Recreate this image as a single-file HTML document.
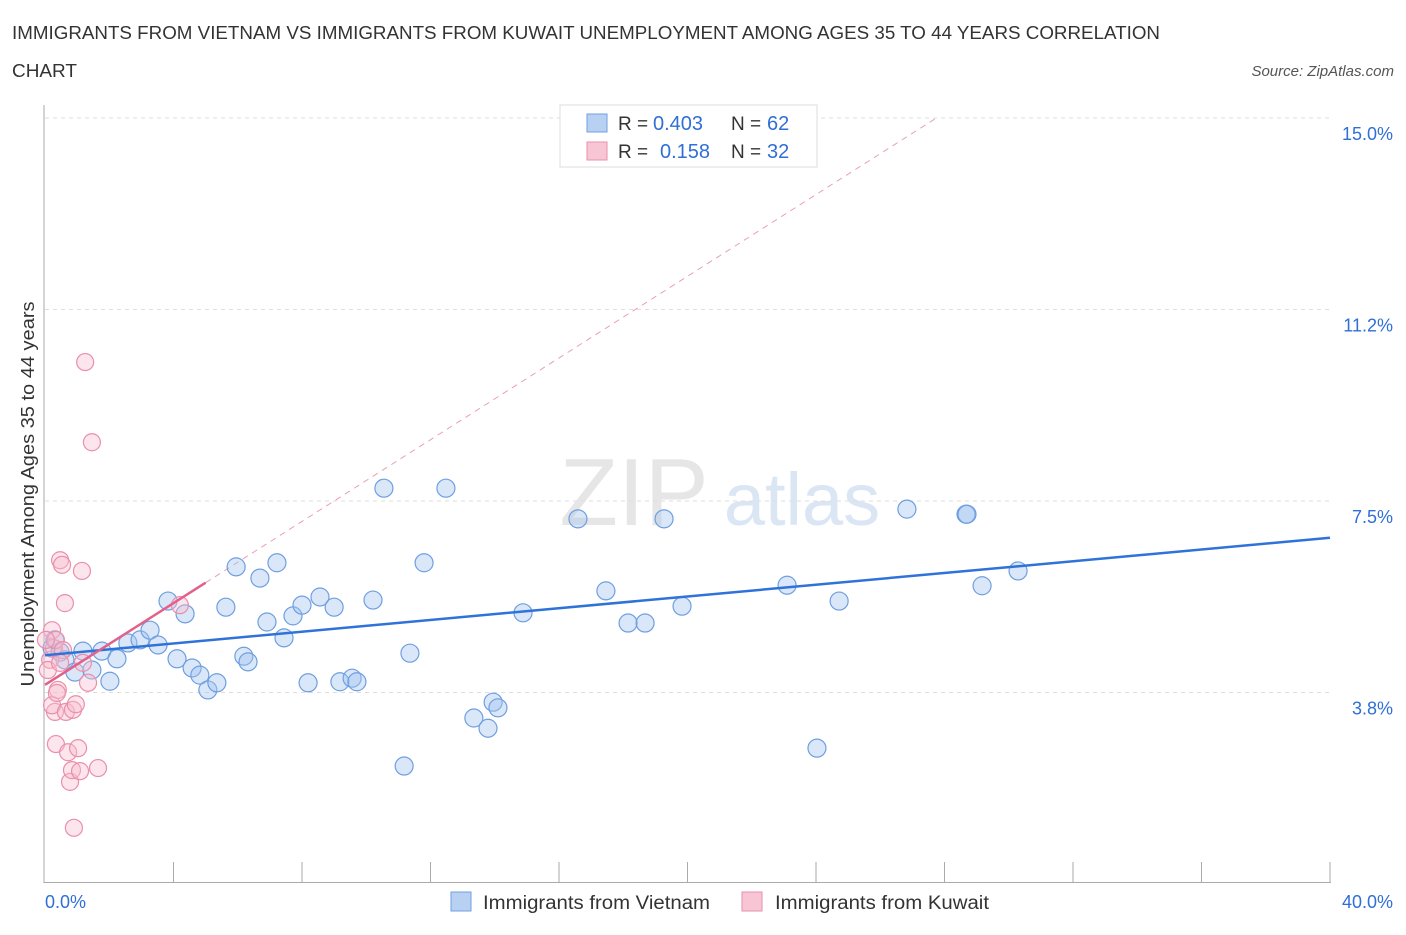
<!DOCTYPE html>
<html><head><meta charset="utf-8"><style>
body{margin:0;background:#fff;font-family:"Liberation Sans",sans-serif;}
svg text{font-family:"Liberation Sans",sans-serif;}
</style></head><body>
<svg id="c" width="1406" height="930">
<text x="12" y="39" font-size="18" fill="#333" textLength="1148" lengthAdjust="spacingAndGlyphs">IMMIGRANTS FROM VIETNAM VS IMMIGRANTS FROM KUWAIT UNEMPLOYMENT AMONG AGES 35 TO 44 YEARS CORRELATION</text>
<text x="12" y="77" font-size="18" fill="#333" textLength="65" lengthAdjust="spacingAndGlyphs">CHART</text>
<text x="1394" y="76" font-size="15" fill="#555" font-style="italic" text-anchor="end">Source: ZipAtlas.com</text>
<text x="634" y="525" font-size="96" fill="#e6e6e6" font-family="Liberation Serif" text-anchor="middle">ZIP</text>
<text x="802" y="525" font-size="74" fill="#dbe6f5" text-anchor="middle">atlas</text>
<text transform="translate(34,494) rotate(-90)" font-size="18" fill="#333" text-anchor="middle" textLength="385" lengthAdjust="spacingAndGlyphs">Unemployment Among Ages 35 to 44 years</text>
<g id="grid"></g><g id="marks"></g>
<g>
<rect x="560" y="105" width="257" height="62" fill="#fff" stroke="#ddd"/>
<rect x="587" y="114" width="20" height="18" fill="#b8d1f3" stroke="#6f9fe0"/>
<text x="618" y="130" font-size="19" fill="#333">R =</text>
<text x="653" y="130" font-size="20" fill="#2f6fd6">0.403</text>
<text x="731" y="130" font-size="19" fill="#333">N =</text>
<text x="767" y="130" font-size="20" fill="#2f6fd6">62</text>
<rect x="587" y="142" width="20" height="18" fill="#f8c5d4" stroke="#ea8fab"/>
<text x="618" y="158" font-size="19" fill="#333">R =</text>
<text x="660" y="158" font-size="20" fill="#2f6fd6">0.158</text>
<text x="731" y="158" font-size="19" fill="#333">N =</text>
<text x="767" y="158" font-size="20" fill="#2f6fd6">32</text>
</g>
<g>
<rect x="451" y="892" width="20" height="19" fill="#b8d1f3" stroke="#6f9fe0"/>
<text x="483" y="909" font-size="19" fill="#333" textLength="227" lengthAdjust="spacingAndGlyphs">Immigrants from Vietnam</text>
<rect x="742" y="892" width="20" height="19" fill="#f8c5d4" stroke="#ea8fab"/>
<text x="775" y="909" font-size="19" fill="#333" textLength="214" lengthAdjust="spacingAndGlyphs">Immigrants from Kuwait</text>
</g>
</svg>
<script>
const xTicks=[0,40];
const yTicks=[3.75,7.5,11.25,15];
const yTickLabels=["3.8%","7.5%","11.2%","15.0%"];
const vietX=[0.22,0.47,0.31,0.62,0.93,1.18,1.46,1.77,2.02,2.24,2.58,2.96,3.27,3.52,3.83,4.11,4.36,4.58,4.82,5.07,5.35,5.63,5.95,6.19,6.32,6.69,6.91,7.22,7.44,7.72,8.00,8.19,8.56,9.00,9.18,9.56,9.71,10.21,10.55,11.18,11.36,11.80,12.48,13.35,13.79,13.95,14.10,14.88,16.59,17.46,18.15,18.68,19.27,19.83,23.10,24.03,24.72,26.83,28.67,28.70,29.17,30.29];
const vietY=[4.62,4.54,4.78,4.39,4.15,4.56,4.19,4.56,3.97,4.41,4.72,4.78,4.97,4.68,5.54,4.41,5.29,4.23,4.09,3.80,3.94,5.42,6.21,4.46,4.35,5.99,5.13,6.29,4.82,5.25,5.46,3.94,5.62,5.42,3.96,4.03,3.96,5.56,7.75,2.31,4.52,6.29,7.75,3.25,3.05,3.56,3.45,5.31,7.15,5.74,5.11,5.11,7.15,5.44,5.85,2.66,5.54,7.34,7.24,7.24,5.84,6.13];
const kuwX=[0.16,0.22,0.28,0.34,0.40,0.47,0.53,0.56,0.31,0.22,0.34,0.62,0.65,0.72,0.78,0.84,0.87,0.90,0.96,1.03,1.09,1.15,1.18,1.25,1.34,1.46,1.65,4.20,0.09,0.37,0.47,0.03];
const kuwY=[4.39,4.97,4.62,4.78,3.80,6.34,6.25,4.58,3.37,3.50,2.74,5.50,3.37,2.58,2.00,2.23,3.41,1.10,3.52,2.66,2.21,6.13,4.33,10.22,3.94,8.65,2.27,5.46,4.19,3.74,4.33,4.78];
const vietTrend=[4.48,6.78];
const kuwTrend=[3.90,0.40];
const X=v=>45+v*32.125, Y=v=>884-v*51.07;
const NS="http://www.w3.org/2000/svg";
const grid=document.getElementById('grid'), marks=document.getElementById('marks');
function mk(tag,at,par){const e=document.createElementNS(NS,tag);for(const k in at)e.setAttribute(k,at[k]);par.appendChild(e);return e;}
yTicks.forEach((t,i)=>{
 const l=mk('line',{x1:45,x2:1330,y1:Y(t),y2:Y(t),stroke:'#ddd','stroke-dasharray':'4,4'},grid);
 
 
 const tx=mk('text',{x:1393,y:Y(t)+22,'font-size':18,fill:'#2f6fd6','text-anchor':'end'},grid);
 tx.textContent=yTickLabels[i];
 
 
});
const ax=mk('line',{x1:44,x2:44,y1:105,y2:883,stroke:'#aaa'},grid);


const bx=mk('line',{x1:44,x2:1331,y1:882.5,y2:882.5,stroke:'#aaa'},grid);


for(let i=1;i<=10;i++){const t=mk('line',{x1:X(i*4),x2:X(i*4),y1:862,y2:883,stroke:'#aaa'},grid);
 
 }
xTicks.forEach((t,i)=>{const tx=mk('text',{x:i?1393:45,y:908,'font-size':18,fill:'#2f6fd6','text-anchor':i?'end':'start'},grid);
 tx.textContent=t.toFixed(1)+'%';
 
 });
const kx2=(15-kuwTrend[0])/kuwTrend[1];
const d=mk('line',{x1:X(5),y1:Y(kuwTrend[0]+5*kuwTrend[1]),x2:X(kx2),y2:Y(15),stroke:'#e8a0b4','stroke-dasharray':'6,5'},marks);


vietX.forEach((x,i)=>{const c=mk('circle',{cx:X(x),cy:Y(vietY[i]),r:9,fill:'rgba(160,195,240,0.4)',stroke:'#6f9fe0','stroke-width':1.2},marks);
 
 });
kuwX.forEach((x,i)=>{const c=mk('circle',{cx:X(x),cy:Y(kuwY[i]),r:8.5,fill:'rgba(248,190,208,0.4)',stroke:'#ea8fab','stroke-width':1.2},marks);
 
 });
const bt=mk('line',{x1:X(0),y1:Y(vietTrend[0]),x2:X(40),y2:Y(vietTrend[1]),stroke:'#2f72d8','stroke-width':2.5},marks);


const pt=mk('line',{x1:X(0),y1:Y(kuwTrend[0]),x2:X(5),y2:Y(kuwTrend[0]+5*kuwTrend[1]),stroke:'#e2608a','stroke-width':2.5},marks);


</script>
</body></html>
